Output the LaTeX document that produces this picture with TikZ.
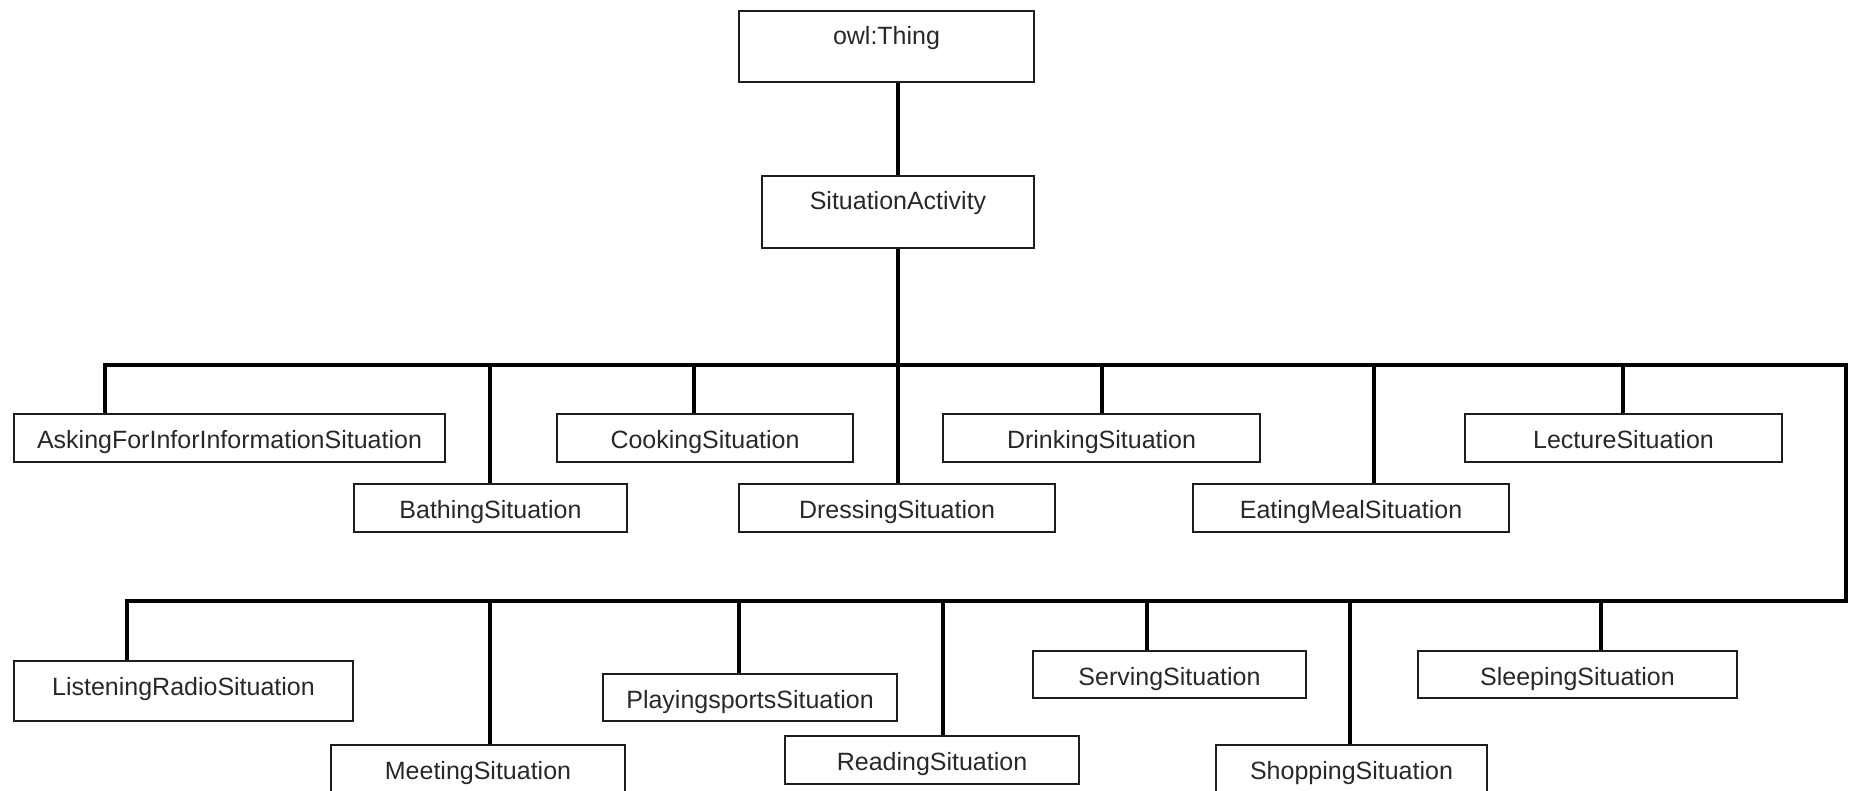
\documentclass[tikz,border=0pt]{standalone}
\usepackage{fontspec}
\setmainfont{Liberation Sans}
\definecolor{txt}{RGB}{40,40,40}
\definecolor{edge}{RGB}{30,30,30}
\begin{document}
\begin{tikzpicture}[x=1pt,y=-1pt,
  box/.style={draw=edge, line width=2pt, inner sep=0pt, anchor=north,
    text height=34pt, font=\fontsize{25}{30}\selectfont, text=txt},
  conn/.style={line width=4.5pt, black, line join=miter}]
\useasboundingbox (0,0) rectangle (1849,791);
\clip (0,0) rectangle (1849,791);
% boxes
\node[box, minimum width=295pt, text depth=37pt] (owl) at (886.5,10) {owl:Thing};
\node[box, minimum width=272pt, text depth=38pt] (sa) at (898,175) {SituationActivity};
\node[box, minimum width=431pt, text depth=14pt] (asking) at (229.5,413) {AskingForInforInformationSituation};
\node[box, minimum width=296pt, text depth=14pt] (cooking) at (705,413) {CookingSituation};
\node[box, minimum width=317pt, text depth=14pt] (drinking) at (1101.5,413) {DrinkingSituation};
\node[box, minimum width=317pt, text depth=14pt] (lecture) at (1623.5,413) {LectureSituation};
\node[box, minimum width=273pt, text depth=14pt] (bathing) at (490.5,483) {BathingSituation};
\node[box, minimum width=316pt, text depth=14pt] (dressing) at (897,483) {DressingSituation};
\node[box, minimum width=316pt, text depth=14pt] (eating) at (1351,483) {EatingMealSituation};
\node[box, minimum width=339pt, text depth=26pt] (listening) at (183.5,660) {ListeningRadioSituation};
\node[box, minimum width=294pt, text depth=16pt] (meeting) at (478,744) {MeetingSituation};
\node[box, minimum width=294pt, text depth=13pt] (playing) at (750,673) {PlayingsportsSituation};
\node[box, minimum width=294pt, text depth=14pt] (reading) at (932,735) {ReadingSituation};
\node[box, minimum width=273pt, text depth=13pt] (serving) at (1169.5,650) {ServingSituation};
\node[box, minimum width=271pt, text depth=16pt] (shopping) at (1351.5,744) {ShoppingSituation};
\node[box, minimum width=319pt, text depth=13pt] (sleeping) at (1577.5,650) {SleepingSituation};
% bus coordinates
\coordinate (c1) at (105,365);
\coordinate (c2) at (1846,365);
\coordinate (c3) at (1846,601);
\coordinate (c4) at (127,601);
\coordinate (dBathing) at (490,365);
\coordinate (dCooking) at (694,365);
\coordinate (dDrinking) at (1102,365);
\coordinate (dEating) at (1374,365);
\coordinate (dLecture) at (1623,365);
\coordinate (dMeeting) at (490,601);
\coordinate (dPlaying) at (739,601);
\coordinate (dReading) at (943,601);
\coordinate (dServing) at (1147,601);
\coordinate (dShopping) at (1350,601);
\coordinate (dSleeping) at (1601,601);
% connectors
\draw[conn] (owl.south -| sa.north) -- (sa.north);
\draw[conn] (sa.south) -- (sa.south |- dressing.north);
\draw[conn] (c1 |- asking.north) -- (c1) -- (c2) -- (c3) -- (c4) -- (c4 |- listening.north);
\draw[conn] (dBathing) -- (dBathing |- bathing.north);
\draw[conn] (dCooking) -- (dCooking |- cooking.north);
\draw[conn] (dDrinking) -- (dDrinking |- drinking.north);
\draw[conn] (dEating) -- (dEating |- eating.north);
\draw[conn] (dLecture) -- (dLecture |- lecture.north);
\draw[conn] (dMeeting) -- (dMeeting |- meeting.north);
\draw[conn] (dPlaying) -- (dPlaying |- playing.north);
\draw[conn] (dReading) -- (dReading |- reading.north);
\draw[conn] (dServing) -- (dServing |- serving.north);
\draw[conn] (dShopping) -- (dShopping |- shopping.north);
\draw[conn] (dSleeping) -- (dSleeping |- sleeping.north);
\end{tikzpicture}
\end{document}
